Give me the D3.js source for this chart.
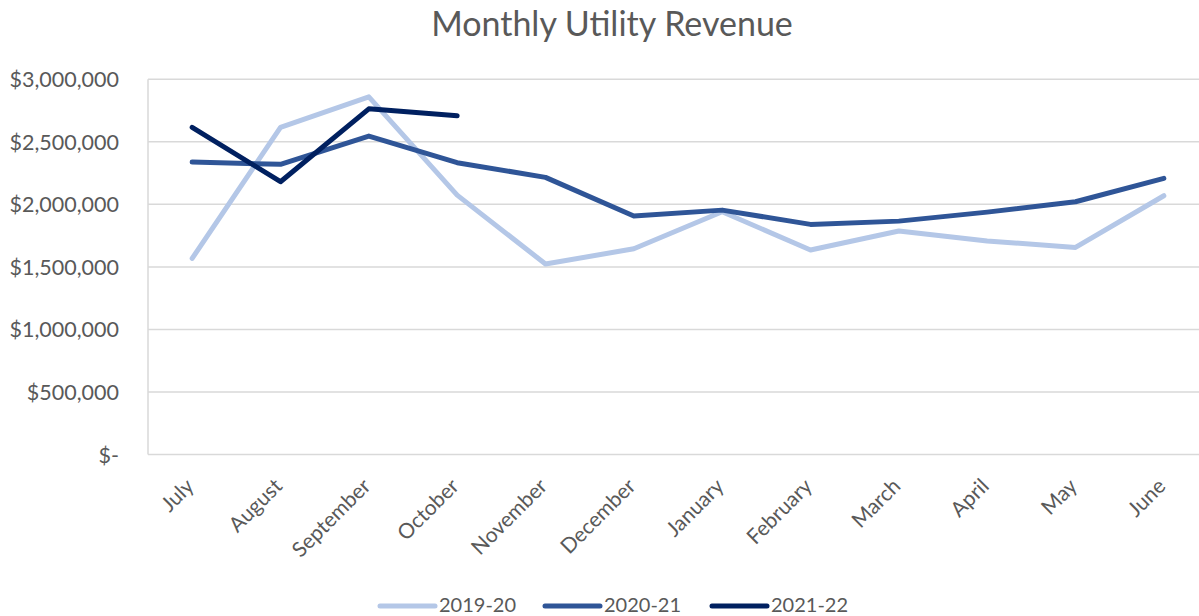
<!DOCTYPE html>
<html>
<head>
<meta charset="utf-8">
<script src="https://cdn.jsdelivr.net/npm/d3@7"></script>
<style>
  html, body { margin: 0; padding: 0; background: #fff; }
  svg { display: block; font-family: Lato, "Open Sans", sans-serif; }
</style>
</head>
<body>
<svg id="chart" width="1199" height="616"></svg>
<script>
const months = ["July","August","September","October","November","December","January","February","March","April","May","June"];
const seriesNames = ["2019-20","2020-21","2021-22"];
const fy2019 = [1568000, 2616000, 2860000, 2074000, 1523000, 1645000, 1941000, 1635000, 1787000, 1707000, 1656000, 2069000];
const fy2020 = [2338000, 2320000, 2546000, 2333000, 2216000, 1907000, 1954000, 1840000, 1866000, 1938000, 2021000, 2208000];
const fy2021 = [2616000, 2181000, 2764000, 2708000];
const yTicks = [0, 500000, 1000000, 1500000, 2000000, 2500000, 3000000];
const colors = ["#B4C7E7", "#2F5597", "#002060"];

const svg = d3.select("#chart");
const plotLeft = 148, plotTop = 79.3, plotBottom = 454.5, plotRight = 1208;

const x = d3.scaleBand().domain(months).range([plotLeft, plotRight]);
const y = d3.scaleLinear().domain([0, 3000000]).range([plotBottom, plotTop]);

// title
svg.append("text").attr("x", 612).attr("y", 36).attr("text-anchor", "middle")
  .attr("font-size", 34).attr("fill", "#595959").text("Monthly Utility Revenue");

// gridlines
svg.append("g").selectAll("line").data(yTicks).join("line")
  .attr("x1", plotLeft).attr("x2", 1199)
  .attr("y1", d => y(d)).attr("y2", d => y(d))
  .attr("stroke", "#D9D9D9").attr("stroke-width", 1.5);
// left axis line
svg.append("line").attr("x1", plotLeft).attr("x2", plotLeft).attr("y1", y(3000000)).attr("y2", y(0))
  .attr("stroke", "#D9D9D9").attr("stroke-width", 1.5);

// y labels
const fmt = d => d === 0 ? "$-" : "$" + d3.format(",")(d);
const yAxis = d3.axisLeft(y).tickValues(yTicks).tickFormat(fmt).tickSize(0).tickPadding(29);
const gy = svg.append("g").attr("transform", `translate(${plotLeft},0)`).call(yAxis);
gy.select(".domain").remove();
gy.selectAll("text").attr("font-size", 21.5).attr("fill", "#595959").attr("font-family", "Lato, 'Open Sans', sans-serif").attr("dy", "0.35em");

// x labels
const xAxis = d3.axisBottom(x).tickSize(0).tickPadding(0);
const gx = svg.append("g").attr("transform", `translate(0,${plotBottom})`).call(xAxis);
gx.select(".domain").remove();
gx.selectAll("text")
  .attr("font-size", 21).attr("fill", "#595959").attr("font-family", "Lato, 'Open Sans', sans-serif")
  .attr("text-anchor", "end").attr("dy", 0).attr("y", 0)
  .attr("transform", "translate(3,33) rotate(-45)");

// lines
const line = d3.line().x((d, i) => x(months[i]) + x.bandwidth() / 2).y(d => y(d));
[fy2019, fy2020, fy2021].forEach((s, i) => {
  svg.append("path").datum(s).attr("d", line)
    .attr("fill", "none").attr("stroke", colors[i]).attr("stroke-width", 5)
    .attr("stroke-linecap", "round").attr("stroke-linejoin", "round");
});

// legend
const legendX = [380, 545, 712];
const lg = svg.append("g");
seriesNames.forEach((n, i) => {
  lg.append("line").attr("x1", legendX[i]).attr("x2", legendX[i] + 55)
    .attr("y1", 606).attr("y2", 606)
    .attr("stroke", colors[i]).attr("stroke-width", 5).attr("stroke-linecap", "round");
  lg.append("text").attr("x", legendX[i] + 59).attr("y", 612)
    .attr("font-size", 20).attr("fill", "#595959").text(n);
});
</script>
</body>
</html>
